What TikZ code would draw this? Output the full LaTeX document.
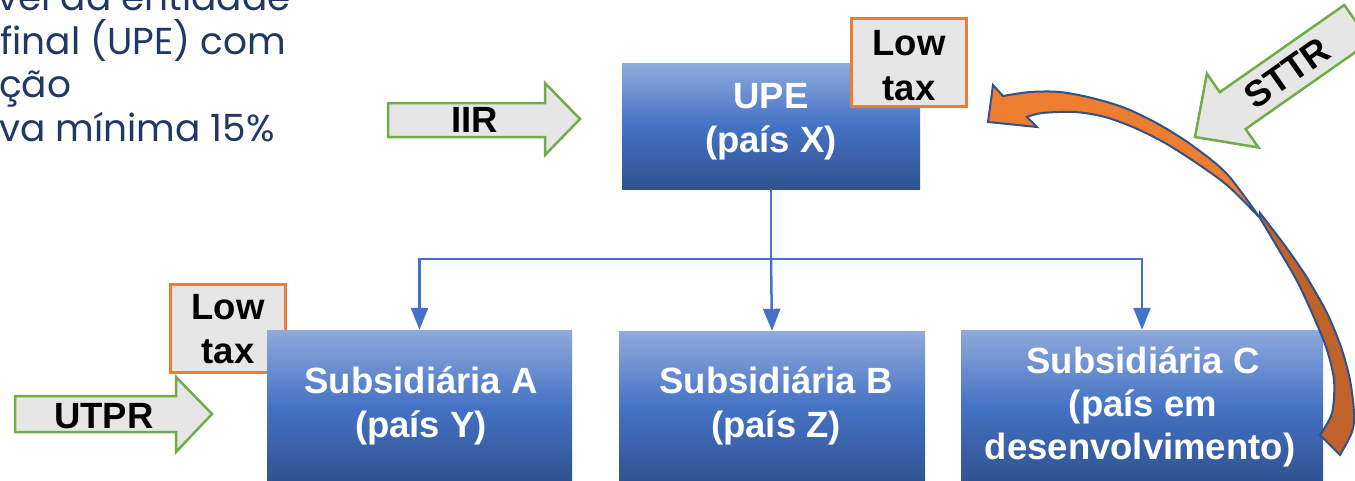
\documentclass[tikz,border=0pt]{standalone}
\usepackage{fontspec}
\setmainfont{Liberation Sans}
\newfontfamily\popfont{Poppins}
\usetikzlibrary{arrows.meta}
\definecolor{boxlight}{HTML}{8FAADC}
\definecolor{boxmid}{HTML}{4472C4}
\definecolor{boxdark}{HTML}{2F528F}
\definecolor{lightgrey}{HTML}{E7E6E6}
\definecolor{lowor}{HTML}{ED7D31}
\definecolor{grn}{HTML}{70AD47}
\definecolor{connblue}{HTML}{4472C4}
\definecolor{navy}{HTML}{203864}
\definecolor{orbright}{HTML}{ED7D31}
\definecolor{ordark}{HTML}{C0622A}
\definecolor{outblue}{HTML}{2F528F}
\tikzset{
  bigfont/.style={font=\fontsize{36.5}{44}\selectfont\bfseries},
  box/.style={rectangle, inner sep=0pt, draw=none, top color=boxlight, bottom color=boxdark, middle color=boxmid},
  wtxt/.style={bigfont, text=white, anchor=base, inner sep=0pt},
  btxt/.style={bigfont, text=black, anchor=base, inner sep=0pt},
  lowbox/.style={rectangle, fill=lightgrey, draw=lowor, line width=3pt, minimum width=115pt, minimum height=88pt, inner sep=0pt},
  garrow/.style={fill=lightgrey, draw=grn, line width=2.5pt, line join=miter},
  conn/.style={draw=connblue, line width=2.5pt},
  connarr/.style={conn, -{Triangle[length=22pt,width=17pt]}},
  navytxt/.style={font=\popfont\fontsize{37.5}{44}\selectfont, text=navy, anchor=base west, inner sep=0pt},
  curvedarrow/.style={draw=outblue, line width=2pt, line join=miter}
}
\begin{document}
\begin{tikzpicture}[x=1pt,y=-1pt]
\useasboundingbox (0,0) rectangle (1355,480);
\clip (0,0) rectangle (1355,480);

% partial text at top left
\node[navytxt] (p1) at (-3,10.5) {vel da entidade};
\node[navytxt] (p2) at (0,54) {final (UPE) com};
\node[navytxt] (p3) at (-1,97.5) {ção};
\node[navytxt] (p4) at (-1,141) {va mínima 15\%};

% left low tax box (under Subsidiaria A)
\node[lowbox] (lowA) at (228,328.5) {};
\node[btxt] (lowA1) at (228,319) {Low};
\node[btxt] (lowA2) at (228,363) {tax};

% boxes
\node[box, minimum width=305pt, minimum height=154pt] (subA) at (419.5,407) {};
\node[box, minimum width=306pt, minimum height=154pt] (subB) at (772,408) {};
\node[box, minimum width=362pt, minimum height=154pt] (subC) at (1142,407) {};
\node[box, minimum width=298pt, minimum height=126pt] (upe) at (771,126) {};

% connectors
\coordinate (j) at (771,259);
\draw[conn] (upe.south) -- (j);
\draw[connarr] (j) -| (subA.north);
\draw[connarr] (j) -- (subB.north);
\draw[connarr] (j) -| (subC.north);

% top low tax box (over UPE)
\node[lowbox] (lowU) at (909,62.5) {};
\node[btxt] (lowU1) at (909,55) {Low};
\node[btxt] (lowU2) at (909,100) {tax};

% box texts
\node[wtxt] (upe1) at (771,108) {UPE};
\node[wtxt] (upe2) at (771,152) {(país X)};
\node[wtxt] (a1) at (421,393) {Subsidiária A};
\node[wtxt] (a2) at (421,437) {(país Y)};
\node[wtxt] (b1) at (776,393) {Subsidiária B};
\node[wtxt] (b2) at (776,437) {(país Z)};
\node[wtxt] (c1) at (1143,373) {Subsidiária C};
\node[wtxt] (c2) at (1143,416) {(país em};
\node[wtxt] (c3) at (1140,459) {desenvolvimento)};

% IIR arrow
\draw[garrow] (388,103) -- (545,103) -- (545,83) -- (580,119) -- (545,155) -- (545,137) -- (388,137) -- cycle;
\node[btxt] (iir) at (475,132) {IIR};

% UTPR arrow
\draw[garrow] (15,396) -- (176,396) -- (176,377) -- (212,414) -- (176,452) -- (176,432) -- (15,432) -- cycle;
\node[btxt] (utpr) at (104,428) {UTPR};

% STTR arrow
\draw[garrow] (1195,137) -- (1258.5,147.5) -- (1245.6,129.0) -- (1370.1,41.8) -- (1344.3,5.0) -- (1219.8,92.2) -- (1206.9,73.7) -- cycle;
\node[bigfont, text=black, inner sep=0pt, rotate=35] (sttr) at (1287,73) {STTR};

% curved orange arrow: lower dark part
\filldraw[curvedarrow, fill=ordark]
  plot[smooth] coordinates {(1260,213) (1283,243) (1300,267) (1309,281) (1327,313) (1341,347) (1350,380) (1354,413) (1352,432) (1340,455)}
  -- (1320,435)
  -- plot[smooth] coordinates {(1320,435) (1332,413) (1334,380) (1326,347) (1312,313) (1297,281) (1279,250) (1260,218)}
  -- cycle;
% upper bright part with head
\filldraw[curvedarrow, fill=orbright]
  (1003,96) -- (993,85) -- (988,122) -- (1037,127) -- (1027,117)
  -- plot[smooth] coordinates {(1027,117) (1042,113) (1075,112) (1105,117) (1135,128) (1165,143) (1195,162) (1228,186) (1260,218)}
  -- plot[smooth] coordinates {(1260,218) (1227,174) (1193,146) (1160,125) (1125,108) (1092,98) (1060,92) (1030,92) (1003,96)}
  -- cycle;
\end{tikzpicture}
\end{document}
